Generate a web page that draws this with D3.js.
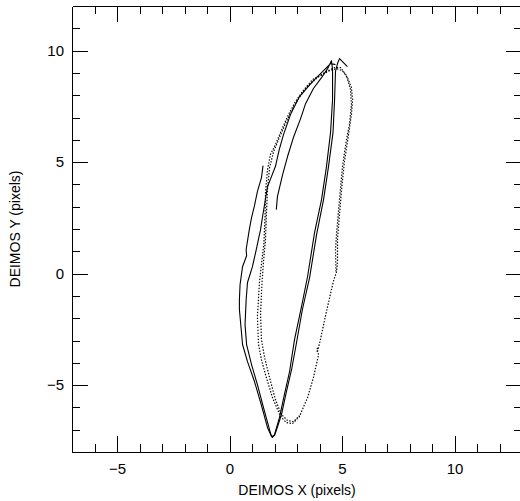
<!DOCTYPE html>
<html>
<head>
<meta charset="utf-8">
<script src="https://cdn.jsdelivr.net/npm/d3@7"></script>
<style>
  html, body { margin: 0; padding: 0; background: #fff; }
  svg { display: block; }
  text { font-family: "Liberation Sans", Arial, Helvetica, sans-serif; fill: #000; }
</style>
</head>
<body>
<svg id="chart" width="520" height="501"></svg>
<script>
// Centroid tracks in DEIMOS detector coordinates (pixels).
// Solid: two passes of the first track; dotted: two passes of the second.
const solidPassA = [
  [2.08, 2.87], [2.13, 3.45], [2.36, 4.44], [2.58, 5.25], [2.84, 6.10], [3.16, 6.95],
  [3.38, 7.62], [3.73, 8.30], [4.09, 8.79], [4.36, 9.19], [4.53, 9.55],
  [4.58, 9.15], [4.58, 7.80], [4.49, 6.32], [4.31, 4.80], [4.09, 3.32], [3.78, 1.84],
  [3.47, -0.13], [3.20, -1.48], [2.89, -2.96], [2.67, -4.39], [2.44, -5.43],
  [2.22, -6.46], [2.00, -7.22], [1.91, -7.35],
  [1.84, -7.22], [1.56, -6.19], [1.24, -4.98], [0.98, -4.08], [0.76, -3.18],
  [0.69, -2.29], [0.74, -1.17], [0.80, -0.40], [1.02, 0.31], [1.19, 1.08],
  [1.30, 1.60], [1.38, 1.97], [1.47, 2.56], [1.69, 3.90], [2.04, 4.80], [2.21, 5.56],
  [2.40, 6.23], [2.71, 7.13], [3.11, 7.94], [3.69, 8.61], [4.18, 9.10],
  [4.49, 9.42], [4.71, 9.37]
];
const solidPassB = [
  [1.49, 4.84], [1.42, 4.30], [1.24, 3.68], [1.10, 3.00], [0.98, 2.51], [0.88, 1.97],
  [0.74, 1.08], [0.76, 0.80], [0.58, 0.31], [0.47, -0.49], [0.44, -1.17], [0.44, -1.61],
  [0.52, -2.51], [0.58, -3.18], [0.80, -3.95], [1.11, -4.84], [1.41, -5.87],
  [1.69, -6.91], [1.87, -7.31],
  [2.00, -7.26], [2.09, -7.00], [2.31, -6.32], [2.53, -5.29], [2.76, -4.30],
  [2.98, -3.09], [3.24, -1.61], [3.56, -0.18], [3.87, 1.75], [4.18, 3.32],
  [4.40, 4.80], [4.60, 6.32], [4.67, 7.80], [4.71, 9.06], [4.80, 9.42],
  [4.89, 9.64], [5.02, 9.51], [5.24, 9.28]
];
const dottedPassA = [
  [4.73, 0.09], [4.71, 1.08], [4.76, 1.84], [4.89, 3.32], [5.02, 4.80], [5.20, 6.01],
  [5.33, 6.68], [5.42, 7.58], [5.38, 8.25], [5.20, 8.88], [4.93, 9.24], [4.67, 9.24],
  [4.31, 9.06], [3.69, 8.70], [3.24, 8.16], [2.93, 7.71], [2.62, 7.13], [2.36, 6.55],
  [2.04, 5.78], [1.82, 5.34], [1.69, 4.66], [1.60, 3.63], [1.58, 2.56], [1.53, 1.39],
  [1.42, 0.40], [1.33, -0.40], [1.24, -1.93], [1.29, -3.18], [1.42, -3.86],
  [1.60, -4.53], [1.91, -5.56], [2.27, -6.41], [2.53, -6.68], [2.80, -6.73],
  [3.11, -6.41], [3.47, -5.56], [3.73, -4.66], [3.96, -3.63], [3.87, -3.41],
  [3.96, -3.27]
];
const dottedPassB = [
  [3.91, -3.50], [4.04, -2.96], [4.31, -1.70], [4.53, -0.72], [4.64, -0.27],
  [4.76, 0.09], [4.80, 0.54], [4.80, 1.52], [4.89, 2.65], [4.98, 3.77], [5.11, 5.02],
  [5.29, 6.23], [5.42, 7.13], [5.47, 7.80], [5.42, 8.34], [5.24, 8.79], [5.02, 9.10],
  [4.76, 9.19], [4.44, 9.10], [3.91, 8.79], [3.42, 8.34], [3.07, 7.85], [2.76, 7.31],
  [2.49, 6.73], [2.22, 6.10], [1.96, 5.47], [1.78, 4.75], [1.69, 3.77], [1.64, 2.65],
  [1.60, 1.52], [1.51, 0.54], [1.44, -0.49], [1.38, -1.84], [1.42, -2.96],
  [1.56, -3.77], [1.78, -4.66], [2.04, -5.65], [2.31, -6.32], [2.58, -6.59],
  [2.84, -6.64], [3.11, -6.37]
];

const xDomain = [-7, 13];
const yDomain = [-8, 12];
const xMajorTicks = [-5, 0, 5, 10];
const yMajorTicks = [-5, 0, 5, 10];
const xMinorTicks = d3.range(-6, 13).filter(v => !xMajorTicks.includes(v));
const yMinorTicks = d3.range(-7, 12).filter(v => !yMajorTicks.includes(v));
const xTitle = "DEIMOS X (pixels)";
const yTitle = "DEIMOS Y (pixels)";

const svg = d3.select("#chart");
const plotLeft = 72, plotRight = 522, plotTop = 6, plotBottom = 452;

const x = d3.scaleLinear().domain(xDomain).range([plotLeft, plotRight]);
const y = d3.scaleLinear().domain(yDomain).range([plotBottom, plotTop]);

const line = d3.line().x(d => x(d[0])).y(d => y(d[1]));

// Tracks
const plot = svg.append("g");
[solidPassA, solidPassB].forEach(pts => {
  plot.append("path").datum(pts).attr("d", line)
    .attr("fill", "none").attr("stroke", "#000").attr("stroke-width", 1.1)
    .attr("stroke-linejoin", "round");
});
[dottedPassA, dottedPassB].forEach(pts => {
  plot.append("path").datum(pts).attr("d", line)
    .attr("fill", "none").attr("stroke", "#000").attr("stroke-width", 1.2)
    .attr("stroke-dasharray", "1.4,1.6");
});

// Axes: ticks point inward on all four sides
function styleAxis(g) {
  g.selectAll("line").attr("stroke", "#000").attr("shape-rendering", "crispEdges");
  g.selectAll("path.domain").attr("stroke", "#000").attr("shape-rendering", "crispEdges");
  g.selectAll("text").attr("font-family", '"Liberation Sans", Arial, sans-serif')
    .attr("font-size", 15).attr("fill", "#000");
}

function addAxis(maker, scale, transform, major, minor, withLabels) {
  svg.append("g").attr("transform", transform)
    .call(maker(scale).tickValues(minor).tickSize(-8).tickSizeOuter(0).tickFormat(""))
    .call(g => g.select(".domain").remove())
    .call(styleAxis);
  const g = svg.append("g").attr("transform", transform)
    .call(maker(scale).tickValues(major).tickSize(-16).tickSizeOuter(0)
      .tickPadding(withLabels ? 11 : 0)
      .tickFormat(withLabels ? d3.format("d") : ""))
    .call(styleAxis);
  return g;
}

addAxis(d3.axisBottom, x, `translate(0,${plotBottom})`, xMajorTicks, xMinorTicks, true);
addAxis(d3.axisTop, x, `translate(0,${plotTop})`, xMajorTicks, xMinorTicks, false);
const yl = addAxis(d3.axisLeft, y, `translate(${plotLeft},0)`, yMajorTicks, yMinorTicks, true);
yl.selectAll("text").attr("x", -8);
addAxis(d3.axisRight, y, `translate(${plotRight},0)`, yMajorTicks, yMinorTicks, false);

// Axis titles
svg.append("text").attr("x", (plotLeft + plotRight) / 2).attr("y", 495)
  .attr("text-anchor", "middle").attr("font-size", 14).text(xTitle);
svg.append("text")
  .attr("transform", `translate(20,${(plotTop + plotBottom) / 2}) rotate(-90)`)
  .attr("text-anchor", "middle").attr("font-size", 14).text(yTitle);
</script>
</body>
</html>
